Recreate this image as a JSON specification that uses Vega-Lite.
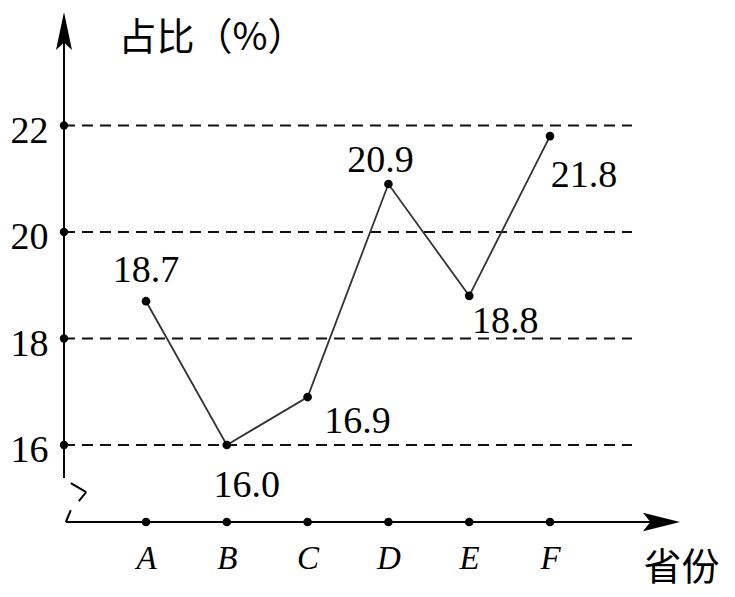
{
  "$schema": "https://vega.github.io/schema/vega-lite/v6.json",
  "width": 616,
  "height": 510,
  "autosize": "none",
  "padding": {"left": 64, "top": 12, "right": 55, "bottom": 75},
  "background": "white",
  "config": {
    "view": {"stroke": null},
    "font": "Liberation Serif",
    "text": {"font": "Liberation Serif"},
    "axis": {"grid": false, "domain": false, "ticks": false, "labelColor": "black", "titleColor": "black", "titleFont": "Noto Sans CJK SC", "titleFontWeight": "normal"},
    "axisY": {"labelFont": "Liberation Serif", "labelFontSize": 38, "labelPadding": 16, "labelBaseline": "middle", "labelOffset": 6, "titleAngle": 0, "titleAlign": "left", "titleBaseline": "middle", "titleX": 54, "titleY": 26, "titleFontSize": 38},
    "axisX": {"labelFont": "Liberation Serif", "labelFontSize": 33, "labelFontStyle": "italic", "labelAngle": 0, "labelPadding": 20, "titleAlign": "center", "titleBaseline": "middle", "titleX": 617, "titleY": 46, "titleFontSize": 38}
  },
  "datasets": {
    "shares": [
      {"province": "A", "share": 18.7},
      {"province": "B", "share": 16.0},
      {"province": "C", "share": 16.9},
      {"province": "D", "share": 20.9},
      {"province": "E", "share": 18.8},
      {"province": "F", "share": 21.8}
    ],
    "ticks": [{"tick": 16}, {"tick": 18}, {"tick": 20}, {"tick": 22}]
  },
  "layer": [
    {
      "layer": [
        {
          "data": {"name": "ticks"},
          "mark": {"type": "rule", "strokeDash": [11, 7], "strokeWidth": 2, "color": "#111"},
          "encoding": {
            "x": {"datum": 0, "type": "quantitative", "scale": {"domain": [0, 1]}, "axis": null},
            "x2": {"datum": 0.922},
            "y": {"field": "tick", "type": "quantitative", "title": "占比（%）", "scale": {"domain": [14.554, 24.13], "nice": false, "zero": false}}
          }
        },
        {
          "data": {"name": "ticks"},
          "mark": {"type": "circle", "size": 70, "color": "black", "opacity": 1},
          "encoding": {
            "x": {"datum": 0, "type": "quantitative", "scale": {"domain": [0, 1]}, "axis": null},
            "y": {"field": "tick", "type": "quantitative", "title": "占比（%）"}
          }
        },
        {
          "data": {"values": [{}]},
          "mark": {"type": "rule", "strokeWidth": 2, "color": "black"},
          "encoding": {
            "x": {"datum": 0, "type": "quantitative", "scale": {"domain": [0, 1]}, "axis": null},
            "y": {"datum": 15.38},
            "y2": {"datum": 24.0}
          }
        },
        {
          "data": {"values": [{}]},
          "mark": {"type": "rule", "strokeWidth": 2, "color": "black"},
          "encoding": {
            "x": {"datum": 0.003, "type": "quantitative", "scale": {"domain": [0, 1]}, "axis": null},
            "x2": {"datum": 0.97},
            "y": {"datum": 14.554}
          }
        },
        {
          "data": {"values": [{}]},
          "mark": {"type": "rule", "strokeWidth": 2, "color": "black"},
          "encoding": {
            "x": {"datum": 0.011, "type": "quantitative", "scale": {"domain": [0, 1]}, "axis": null},
            "x2": {"datum": 0.036},
            "y": {"datum": 15.286},
            "y2": {"datum": 15.117}
          }
        },
        {
          "data": {"values": [{}]},
          "mark": {"type": "rule", "strokeWidth": 2, "color": "black"},
          "encoding": {
            "x": {"datum": 0.036, "type": "quantitative", "scale": {"domain": [0, 1]}, "axis": null},
            "x2": {"datum": 0.024},
            "y": {"datum": 15.117},
            "y2": {"datum": 14.948}
          }
        },
        {
          "data": {"values": [{}]},
          "mark": {"type": "rule", "strokeWidth": 2, "color": "black"},
          "encoding": {
            "x": {"datum": 0.011, "type": "quantitative", "scale": {"domain": [0, 1]}, "axis": null},
            "x2": {"datum": 0.003},
            "y": {"datum": 14.779},
            "y2": {"datum": 14.554}
          }
        },
        {
          "data": {"values": [{}]},
          "mark": {"type": "point", "shape": "M0,0L-0.21,1L0,0.8L0.21,1Z", "size": 5776, "filled": true, "color": "black", "opacity": 1},
          "encoding": {
            "x": {"datum": 0, "type": "quantitative", "scale": {"domain": [0, 1]}, "axis": null},
            "y": {"datum": 24.13}
          }
        },
        {
          "data": {"values": [{}]},
          "mark": {"type": "point", "shape": "M0,0L-1,-0.25L-0.8,0L-1,0.25Z", "size": 5476, "filled": true, "color": "black", "opacity": 1},
          "encoding": {
            "x": {"datum": 1, "type": "quantitative", "scale": {"domain": [0, 1]}, "axis": null},
            "y": {"datum": 14.554}
          }
        }
      ]
    },
    {
      "data": {"name": "shares"},
      "encoding": {
        "x": {"field": "province", "type": "nominal", "title": "省份", "scale": {"type": "point", "range": [82, 486], "padding": 0}},
        "y": {"field": "share", "type": "quantitative", "title": "占比（%）", "axis": {"values": [16, 18, 20, 22]}}
      },
      "layer": [
        {"mark": {"type": "line", "color": "#333", "strokeWidth": 1.8}},
        {"mark": {"type": "circle", "size": 75, "color": "black", "opacity": 1}},
        {
          "mark": {"type": "circle", "size": 75, "color": "black", "opacity": 1},
          "encoding": {"y": {"datum": 14.554}}
        },
        {
          "transform": [{"filter": "datum.province === 'A'"}],
          "mark": {"type": "text", "font": "Liberation Serif", "fontSize": 38, "align": "center", "baseline": "alphabetic", "dx": 0, "dy": -19},
          "encoding": {"text": {"field": "share", "format": ".1f"}}
        },
        {
          "transform": [{"filter": "datum.province === 'B'"}],
          "mark": {"type": "text", "font": "Liberation Serif", "fontSize": 38, "align": "center", "baseline": "alphabetic", "dx": 20, "dy": 52},
          "encoding": {"text": {"field": "share", "format": ".1f"}}
        },
        {
          "transform": [{"filter": "datum.province === 'C'"}],
          "mark": {"type": "text", "font": "Liberation Serif", "fontSize": 38, "align": "center", "baseline": "alphabetic", "dx": 50, "dy": 36},
          "encoding": {"text": {"field": "share", "format": ".1f"}}
        },
        {
          "transform": [{"filter": "datum.province === 'D'"}],
          "mark": {"type": "text", "font": "Liberation Serif", "fontSize": 38, "align": "center", "baseline": "alphabetic", "dx": -8, "dy": -12},
          "encoding": {"text": {"field": "share", "format": ".1f"}}
        },
        {
          "transform": [{"filter": "datum.province === 'E'"}],
          "mark": {"type": "text", "font": "Liberation Serif", "fontSize": 38, "align": "center", "baseline": "alphabetic", "dx": 36, "dy": 37},
          "encoding": {"text": {"field": "share", "format": ".1f"}}
        },
        {
          "transform": [{"filter": "datum.province === 'F'"}],
          "mark": {"type": "text", "font": "Liberation Serif", "fontSize": 38, "align": "center", "baseline": "alphabetic", "dx": 34, "dy": 51},
          "encoding": {"text": {"field": "share", "format": ".1f"}}
        }
      ]
    }
  ],
  "resolve": {"scale": {"x": "independent"}}
}
